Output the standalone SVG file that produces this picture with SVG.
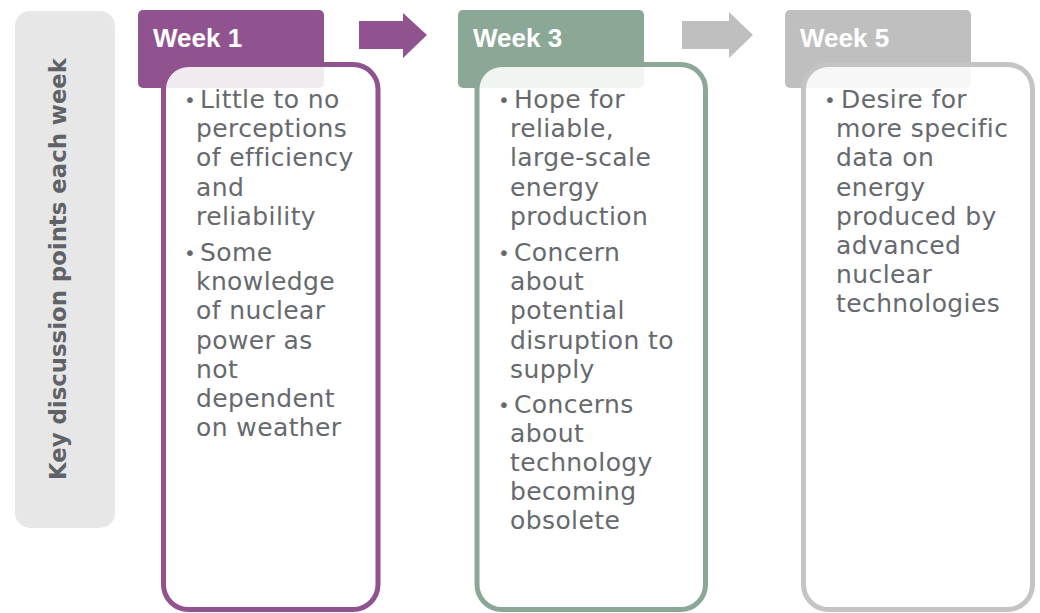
<svg xmlns="http://www.w3.org/2000/svg" width="1040" height="613" viewBox="0 0 1040 613">
<style>
.hdr{font-family:"Liberation Sans",Arial,sans-serif;font-weight:bold;font-size:26px;fill:#ffffff}
.body{fill:#ffffff;fill-opacity:0.88;stroke-width:5}
.txt{font-family:"DejaVu Sans","Liberation Sans",sans-serif;font-size:25px;fill:#66696d;letter-spacing:0.4px}
.bul{font-size:20px}
.side{font-family:"DejaVu Sans","Liberation Sans",sans-serif;font-weight:bold;font-size:23px;fill:#5f6368}
</style>
<rect width="1040" height="613" fill="#ffffff"/>
<g id="side-label">
<rect x="15" y="11" width="100" height="517" rx="15" fill="#e7e7e7"/>
<text class="side" transform="translate(66,269) rotate(-90)" text-anchor="middle" textLength="422" lengthAdjust="spacingAndGlyphs">Key discussion points each week</text>
</g>
<g id="connectors">
<polygon points="359,21 403,21 403,13 427,35 403,58 403,49 359,49" fill="#91538f"/>
<polygon points="682,21 729,21 729,12 753,35 729,58 729,49 682,49" fill="#bfbfbf"/>
</g>
<g id="week1">
<rect x="138" y="10" width="186" height="78" rx="5" fill="#91538f"/>
<text class="hdr" x="153" y="47">Week 1</text>
<rect class="body" x="163.5" y="64.5" width="214.5" height="545" rx="25" stroke="#91538f"/>
<g class="txt">
<text y="107"><tspan class="bul" x="184">•</tspan><tspan x="200" y="108">Little to no</tspan></text>
<text x="196" y="137">perceptions</text>
<text x="196" y="166">of efficiency</text>
<text x="196" y="196">and</text>
<text x="196" y="225">reliability</text>
<text y="260"><tspan class="bul" x="184">•</tspan><tspan x="200" y="261">Some</tspan></text>
<text x="196" y="290">knowledge</text>
<text x="196" y="319">of nuclear</text>
<text x="196" y="349">power as</text>
<text x="196" y="378">not</text>
<text x="196" y="407">dependent</text>
<text x="196" y="436">on weather</text>
</g>
</g>
<g id="week3">
<rect x="458" y="10" width="186" height="78" rx="5" fill="#8ba897"/>
<text class="hdr" x="473" y="47">Week 3</text>
<rect class="body" x="477" y="64.5" width="228.5" height="545" rx="25" stroke="#8ba897"/>
<g class="txt">
<text y="107"><tspan class="bul" x="498">•</tspan><tspan x="514" y="108">Hope for</tspan></text>
<text x="510" y="137">reliable,</text>
<text x="510" y="166">large-scale</text>
<text x="510" y="196">energy</text>
<text x="510" y="225">production</text>
<text y="260"><tspan class="bul" x="498">•</tspan><tspan x="514" y="261">Concern</tspan></text>
<text x="510" y="290">about</text>
<text x="510" y="319">potential</text>
<text x="510" y="349">disruption to</text>
<text x="510" y="378">supply</text>
<text y="412"><tspan class="bul" x="498">•</tspan><tspan x="514" y="413">Concerns</tspan></text>
<text x="510" y="442">about</text>
<text x="510" y="471">technology</text>
<text x="510" y="500">becoming</text>
<text x="510" y="529">obsolete</text>
</g>
</g>
<g id="week5">
<rect x="785" y="10" width="186" height="78" rx="5" fill="#bfbfbf"/>
<text class="hdr" x="800" y="47">Week 5</text>
<rect class="body" x="803.5" y="64.5" width="229" height="545" rx="25" stroke="#c4c4c4"/>
<g class="txt">
<text y="107"><tspan class="bul" x="824">•</tspan><tspan x="841" y="108">Desire for</tspan></text>
<text x="836" y="137">more specific</text>
<text x="836" y="166">data on</text>
<text x="836" y="196">energy</text>
<text x="836" y="225">produced by</text>
<text x="836" y="254">advanced</text>
<text x="836" y="283">nuclear</text>
<text x="836" y="312">technologies</text>
</g>
</g>
</svg>
